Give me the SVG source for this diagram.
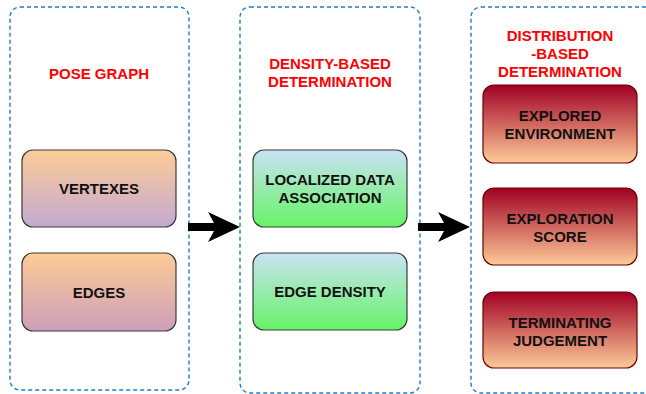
<svg xmlns="http://www.w3.org/2000/svg" width="646" height="394" viewBox="0 0 646 394">
  <defs>
    <linearGradient id="gPoseV" x1="0" y1="0" x2="0" y2="1">
      <stop offset="0" stop-color="#fdcc97"/>
      <stop offset="1" stop-color="#c3a9d1"/>
    </linearGradient>
    <linearGradient id="gPoseE" x1="0" y1="0" x2="0" y2="1">
      <stop offset="0" stop-color="#fdcc97"/>
      <stop offset="1" stop-color="#cd9fba"/>
    </linearGradient>
    <linearGradient id="gGreen" x1="0" y1="0" x2="0" y2="1">
      <stop offset="0" stop-color="#c9e2f4"/>
      <stop offset="1" stop-color="#66f466"/>
    </linearGradient>
    <linearGradient id="gRed" x1="0" y1="0" x2="0" y2="1">
      <stop offset="0" stop-color="#a10024"/>
      <stop offset="1" stop-color="#fdcb98"/>
    </linearGradient>
    <style>
      .lane { fill: #ffffff; stroke: #1f7fc4; stroke-width: 1.4; stroke-dasharray: 4 3; }
      .box { stroke: #3a3a3a; stroke-width: 1.2; }
      .boxRed { stroke: #6f0000; stroke-width: 1.2; }
      .title { font-family: "Liberation Sans", Arial, sans-serif; font-weight: bold; font-size: 15px; fill: #ff0000; text-anchor: middle; }
      .label { font-family: "Liberation Sans", Arial, sans-serif; font-weight: bold; font-size: 15px; fill: #111111; text-anchor: middle; }
      .arrow { fill: #000000; }
    </style>
  </defs>

  <!-- swimlane containers -->
  <g id="lane-pose-graph">
    <rect class="lane" x="10" y="7" width="179" height="383" rx="10"/>
    <text class="title" x="99" y="79">POSE GRAPH</text>
  </g>
  <g id="lane-density">
    <rect class="lane" x="240" y="7" width="180" height="386" rx="10"/>
    <text class="title" x="330" y="69">DENSITY-BASED</text>
    <text class="title" x="330" y="87">DETERMINATION</text>
  </g>
  <g id="lane-distribution">
    <rect class="lane" x="471" y="7" width="190" height="386" rx="10"/>
    <text class="title" x="560" y="41">DISTRIBUTION</text>
    <text class="title" x="560" y="59">-BASED</text>
    <text class="title" x="560" y="77">DETERMINATION</text>
  </g>

  <!-- pose graph nodes -->
  <g id="node-vertexes">
    <rect class="box" x="22" y="150" width="154" height="77" rx="11" fill="url(#gPoseV)"/>
    <text class="label" x="99" y="194">VERTEXES</text>
  </g>
  <g id="node-edges">
    <rect class="box" x="22" y="253" width="154" height="78" rx="11" fill="url(#gPoseE)"/>
    <text class="label" x="99" y="298">EDGES</text>
  </g>

  <!-- density-based nodes -->
  <g id="node-localized-data-association">
    <rect class="box" x="253" y="150" width="154" height="77" rx="11" fill="url(#gGreen)"/>
    <text class="label" x="330" y="185">LOCALIZED DATA</text>
    <text class="label" x="330" y="203">ASSOCIATION</text>
  </g>
  <g id="node-edge-density">
    <rect class="box" x="253" y="253" width="154" height="77" rx="11" fill="url(#gGreen)"/>
    <text class="label" x="330" y="297">EDGE DENSITY</text>
  </g>

  <!-- distribution-based nodes -->
  <g id="node-explored-environment">
    <rect class="boxRed" x="483" y="85" width="154" height="78" rx="11" fill="url(#gRed)"/>
    <text class="label" x="560" y="121">EXPLORED</text>
    <text class="label" x="560" y="139">ENVIRONMENT</text>
  </g>
  <g id="node-exploration-score">
    <rect class="boxRed" x="483" y="188" width="154" height="77" rx="11" fill="url(#gRed)"/>
    <text class="label" x="560" y="224">EXPLORATION</text>
    <text class="label" x="560" y="242">SCORE</text>
  </g>
  <g id="node-terminating-judgement">
    <rect class="boxRed" x="483" y="292" width="154" height="76" rx="11" fill="url(#gRed)"/>
    <text class="label" x="560" y="328">TERMINATING</text>
    <text class="label" x="560" y="346">JUDGEMENT</text>
  </g>

  <!-- connectors between lanes -->
  <g id="connectors">
    <path class="arrow" d="M188,223 H214 L208,212 L240,227 L208,242 L214,231 H188 Z"/>
    <path class="arrow" d="M418,223 H444 L438,212 L470,227 L438,242 L444,231 H418 Z"/>
  </g>
</svg>
